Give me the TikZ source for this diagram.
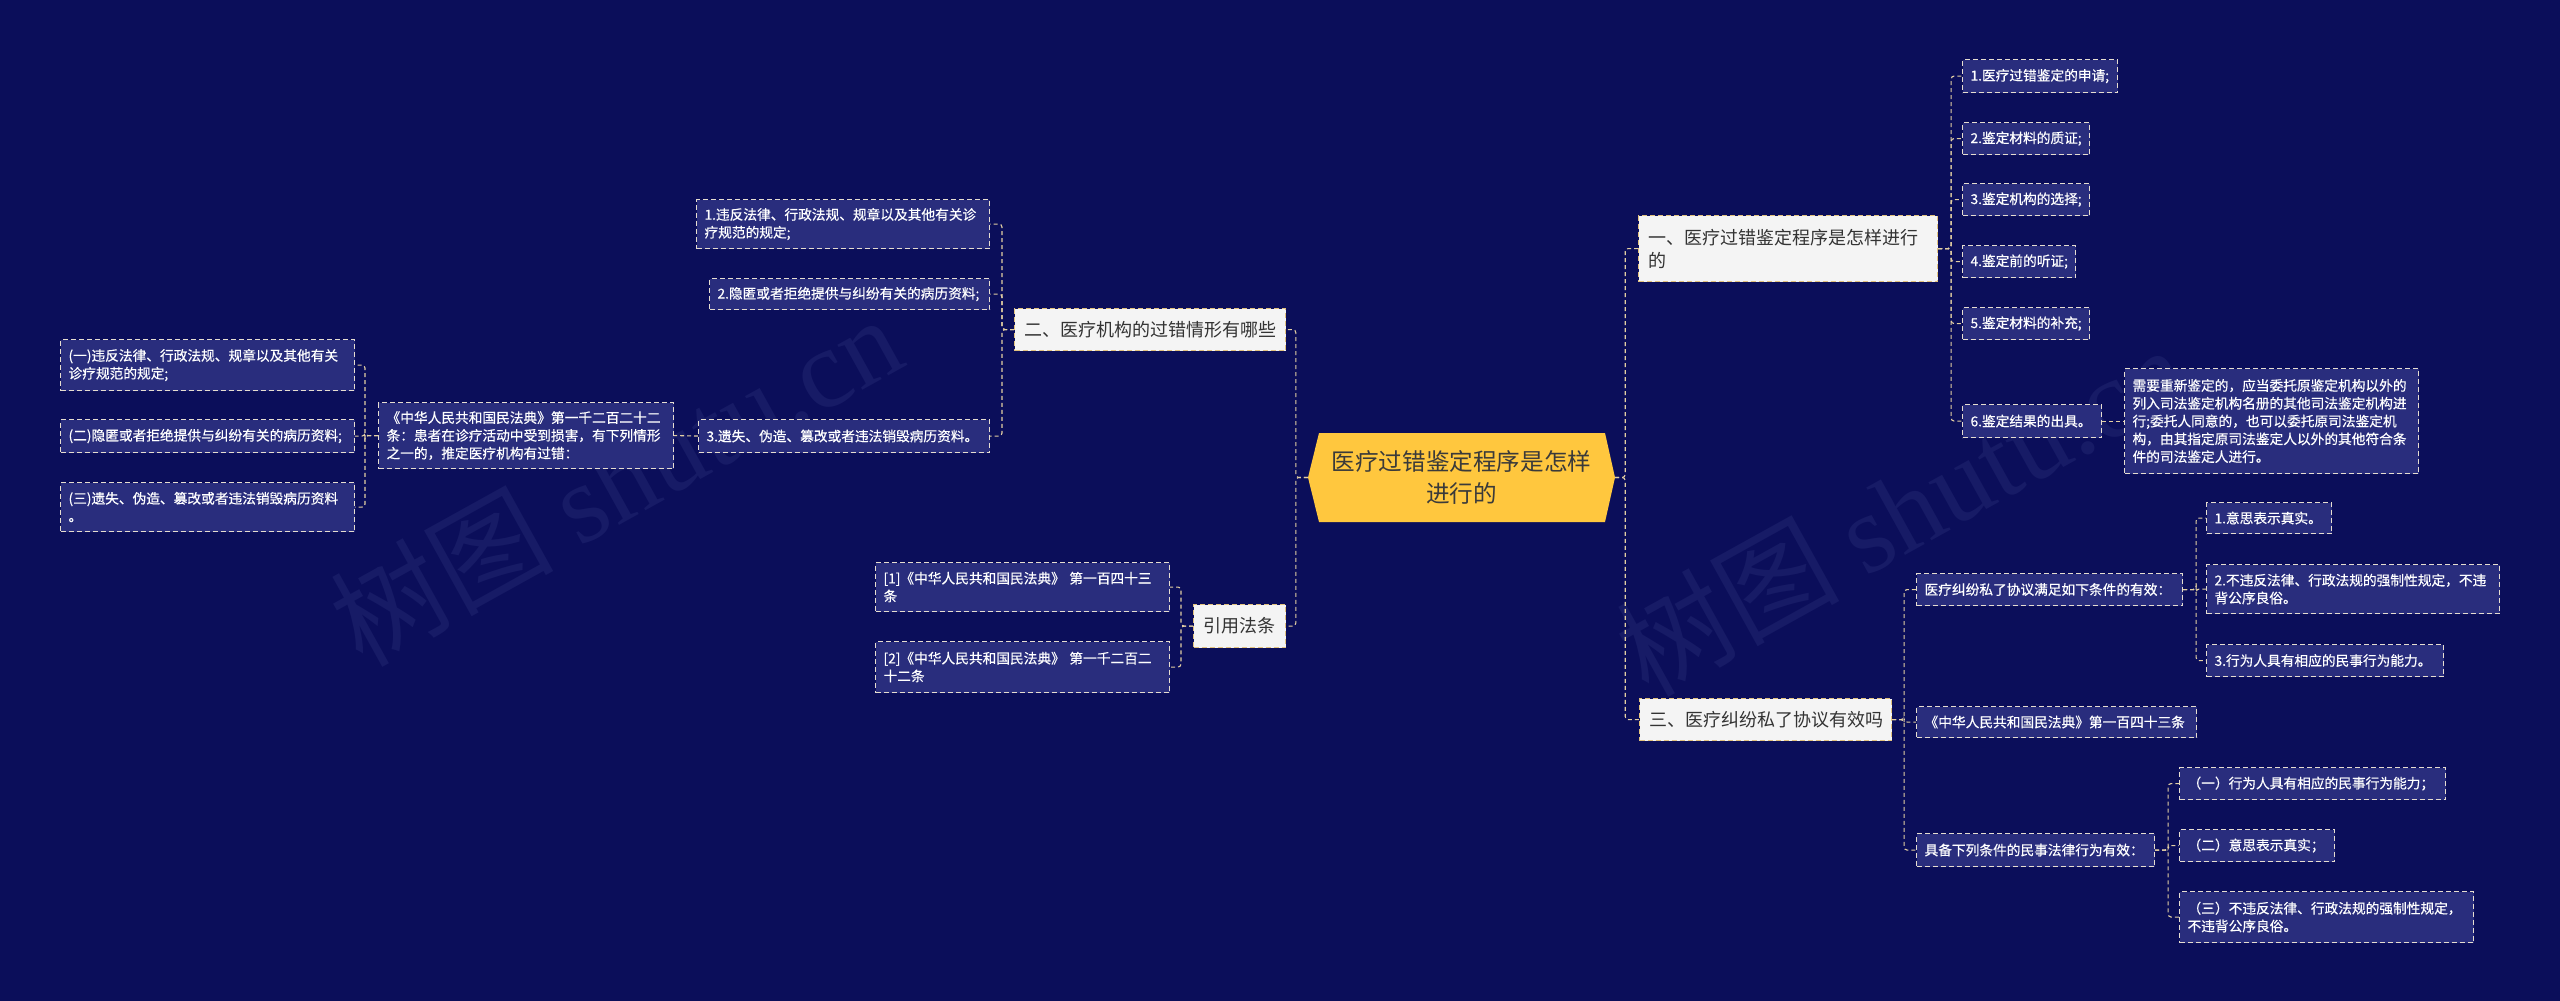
\documentclass[tikz,border=0pt]{standalone}
\usepackage{fontspec}
\setmainfont{Noto Sans CJK SC}
\newfontfamily\leaffont[FakeBold=0.5]{Noto Sans CJK SC}
\newfontfamily\wmserif{Liberation Serif}
\usetikzlibrary{decorations.text}
\definecolor{bg}{HTML}{0B0E5A}
\definecolor{leaffill}{HTML}{292D7D}
\definecolor{leafborder}{HTML}{E6DDD0}
\definecolor{lonefill}{HTML}{F4F4F4}
\definecolor{loneborder}{HTML}{E2C27E}
\definecolor{lonetext}{HTML}{333333}
\definecolor{conncol}{HTML}{E3CFA3}
\definecolor{centerfill}{HTML}{FFC73E}
\definecolor{centertext}{HTML}{3A3A3A}
\definecolor{wmcol}{HTML}{171B66}
\tikzset{
  leaf/.style={draw=leafborder, fill=leaffill, dash pattern=on 5pt off 3pt, line width=1.1pt,
    text=white, font=\leaffont\fontsize{13.7}{17.8}\selectfont, align=left, inner xsep=8pt, inner ysep=0pt,
    anchor=north west},
  lone/.style={draw=loneborder, fill=lonefill, dash pattern=on 5pt off 3pt, line width=1.1pt,
    text=lonetext, font=\fontsize{18}{23}\selectfont, align=left, inner xsep=10pt, inner ysep=0pt,
    anchor=north west},
  bx/.style 2 args={minimum width=#1, minimum height=#2,
    /utils/exec={\pgfmathsetmacro\tw{#1-15}}, text width=\tw pt},
  by/.style 2 args={minimum width=#1, minimum height=#2,
    /utils/exec={\pgfmathsetmacro\tw{#1-19}}, text width=\tw pt},
  conn/.style={draw=conncol, line width=1.1pt, dash pattern=on 4pt off 3pt, rounded corners=3pt},
  wmark/.style={decorate, decoration={text along path, text format delimiters={|}{|},
    text={|\color{wmcol}\fontsize{112}{112}\selectfont|树图 |\color{wmcol}\wmserif\fontsize{112}{112}\selectfont|shutu.cn}}}
}
\begin{document}
\begin{tikzpicture}[x=1pt,y=-1pt]
\useasboundingbox (0,0) rectangle (2560,1001);
\fill[bg] (0,0) rectangle (2560,1001);

% watermarks
\path[wmark] (362,668) -- ++(875,-485);
\path[wmark] (1648,698) -- ++(875,-485);

% center
\fill[centerfill] (1308,477.5) -- (1319,433) -- (1605,433) -- (1615,477.5) -- (1605,522) -- (1319,522) -- cycle;
\node[font=\fontsize{23.6}{32}\selectfont, text=centertext, align=center, minimum width=307,
  minimum height=89, inner sep=0pt] (c) at (1461.5,477.5) {医疗过错鉴定程序是怎样\\进行的};

% right level 1
\node[lone, by={298}{66}] (n1) at (1638,215) {一、医疗过错鉴定程序是怎样进行\\的};
\node[lone, by={251}{42}] (n3) at (1639,698) {三、医疗纠纷私了协议有效吗};

% right leaves of n1
\node[leaf, bx={154}{33}] (r1) at (1962,59) {1.医疗过错鉴定的申请;};
\node[leaf, bx={126}{32}] (r2) at (1962,122) {2.鉴定材料的质证;};
\node[leaf, bx={126}{32}] (r3) at (1962,183) {3.鉴定机构的选择;};
\node[leaf, bx={112}{32}] (r4) at (1962,245) {4.鉴定前的听证;};
\node[leaf, bx={126}{32}] (r5) at (1962,307) {5.鉴定材料的补充;};
\node[leaf, bx={138}{33}] (r6) at (1962,404) {6.鉴定结果的出具。};
\node[leaf, bx={293}{105}] (r6a) at (2124,368) {需要重新鉴定的，应当委托原鉴定机构以外的\\列入司法鉴定机构名册的其他司法鉴定机构进\\行;委托人同意的，也可以委托原司法鉴定机\\构，由其指定原司法鉴定人以外的其他符合条\\件的司法鉴定人进行。};

% right leaves of n3
\node[leaf, bx={265}{32}] (ra) at (1916,573) {医疗纠纷私了协议满足如下条件的有效：};
\node[leaf, bx={124}{31}] (ra1) at (2206,502) {1.意思表示真实。};
\node[leaf, bx={292}{49}] (ra2) at (2206,564) {2.不违反法律、行政法规的强制性规定，不违\\背公序良俗。};
\node[leaf, bx={236}{32}] (ra3) at (2206,644) {3.行为人具有相应的民事行为能力。};
\node[leaf, bx={279}{31}] (rb) at (1916,706) {《中华人民共和国民法典》第一百四十三条};
\node[leaf, bx={237}{33}] (rc) at (1916,833) {具备下列条件的民事法律行为有效：};
\node[leaf, bx={265}{32}] (rc1) at (2179,767) {（一）行为人具有相应的民事行为能力；};
\node[leaf, bx={154}{32}] (rc2) at (2179,829) {（二）意思表示真实；};
\node[leaf, bx={293}{51}] (rc3) at (2179,891) {（三）不违反法律、行政法规的强制性规定，\\不违背公序良俗。};

% left level 1
\node[lone, by={270}{42}] (n2) at (1014,308) {二、医疗机构的过错情形有哪些};
\node[lone, by={91}{43}] (yin) at (1193,604) {引用法条};

% left leaves of n2
\node[leaf, bx={292}{49}] (l1) at (696,199) {1.违反法律、行政法规、规章以及其他有关诊\\疗规范的规定;};
\node[leaf, bx={279}{31}] (l2) at (709,278) {2.隐匿或者拒绝提供与纠纷有关的病历资料;};
\node[leaf, bx={290}{33}] (l3) at (698,419) {3.遗失、伪造、篡改或者违法销毁病历资料。};
\node[leaf, bx={294}{66}] (law) at (378,402) {《中华人民共和国民法典》第一千二百二十二\\条：患者在诊疗活动中受到损害，有下列情形\\之一的，推定医疗机构有过错：};
\node[leaf, bx={293}{51}] (ll1) at (60,339) {(一)违反法律、行政法规、规章以及其他有关\\诊疗规范的规定;};
\node[leaf, bx={293}{33}] (ll2) at (60,419) {(二)隐匿或者拒绝提供与纠纷有关的病历资料;};
\node[leaf, bx={293}{49}] (ll3) at (60,482) {(三)遗失、伪造、篡改或者违法销毁病历资料\\。};

% left leaves of yin
\node[leaf, bx={293}{49}] (y1) at (875,562) {[1]《中华人民共和国民法典》 第一百四十三\\条};
\node[leaf, bx={293}{51}] (y2) at (875,641) {[2]《中华人民共和国民法典》 第一千二百二\\十二条};

% connectors right
\draw[conn] (c.east) -- ++(10,0) |- (n1.west);
\draw[conn] (c.east) -- ++(10,0) |- (n3.west);
\foreach \t in {r1,r2,r3,r4,r5,r6} \draw[conn] (n1.east) -- ++(13,0) |- (\t.west);
\draw[conn] (r6.east) -- (r6a.west);
\foreach \t in {ra,rb,rc} \draw[conn] (n3.east) -- ++(12,0) |- (\t.west);
\foreach \t in {ra1,ra2,ra3} \draw[conn] (ra.east) -- ++(13,0) |- (\t.west);
\foreach \t in {rc1,rc2,rc3} \draw[conn] (rc.east) -- ++(13,0) |- (\t.west);

% connectors left
\draw[conn] (c.west) -- ++(-12,0) |- (n2.east);
\draw[conn] (c.west) -- ++(-12,0) |- (yin.east);
\foreach \t in {l1,l2,l3} \draw[conn] (n2.west) -- ++(-12,0) |- (\t.east);
\draw[conn] (l3.west) -- (law.east);
\foreach \t in {ll1,ll2,ll3} \draw[conn] (law.west) -- ++(-13,0) |- (\t.east);
\foreach \t in {y1,y2} \draw[conn] (yin.west) -- ++(-12,0) |- (\t.east);
\end{tikzpicture}
\end{document}
